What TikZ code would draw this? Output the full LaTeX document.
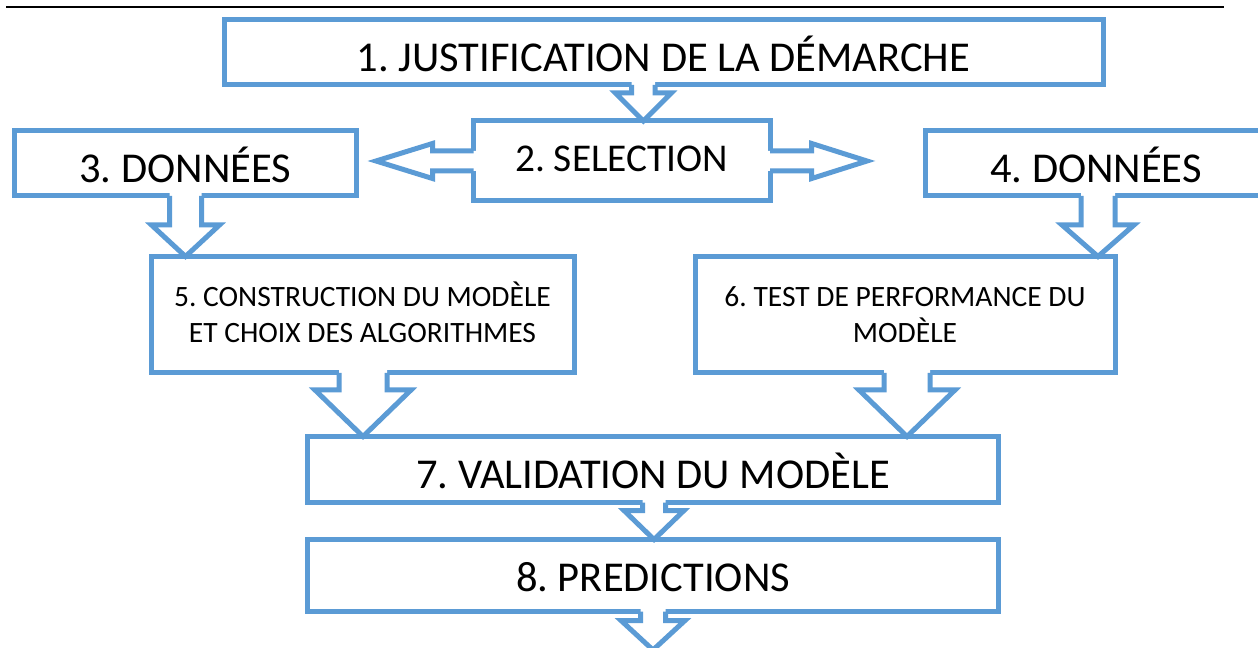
\documentclass[tikz,border=0pt]{standalone}
\usepackage{fontspec}
\setmainfont{Carlito}
\usetikzlibrary{calc}
\newdimen\pxu \pxu=0.02cm
\definecolor{flowblue}{HTML}{5B9BD5}
\frenchspacing
\tikzset{
  flowbox/.style={draw=flowblue, line width=5\pxu, fill=white, outer sep=0pt, inner sep=0pt},
  arr/.style={draw=flowblue, line width=5\pxu, line join=miter},
  bigtxt/.style={font=\fontsize{24.2}{28}\selectfont, inner sep=0pt, anchor=base},
  seltxt/.style={font=\fontsize{22.4}{26}\selectfont, inner sep=0pt, anchor=base},
  smalltxt/.style={font=\fontsize{16.8}{20.4}\selectfont, inner sep=0pt, anchor=base, align=center},
}
\newcommand\varrow[5]{%
  \fill[white] ($(#1)+(-#3,-4)$) -- ($(#2)+(-#3,-#5)$) -- ($(#2)+(-#4,-#5)$) -- (#2) -- ($(#2)+(#4,-#5)$) -- ($(#2)+(#3,-#5)$) -- ($(#1)+(#3,-4)$) -- cycle;
  \draw[arr] ($(#1)+(-#3,0)$) -- ($(#2)+(-#3,-#5)$) -- ($(#2)+(-#4,-#5)$) -- (#2) -- ($(#2)+(#4,-#5)$) -- ($(#2)+(#3,-#5)$) -- ($(#1)+(#3,0)$);}
\begin{document}
\begin{tikzpicture}[x=0.02cm, y=-0.02cm]
\useasboundingbox (0,0) rectangle (1258,648);
\clip (0,0) rectangle (1258,648);
% top rule
\coordinate (rl) at (6,7);
\coordinate (rr) at (1224,7);
\draw[line width=2.5\pxu] (rl) -- (rr);
% boxes
\node[flowbox, minimum width=879\pxu, minimum height=65.5\pxu] (b1) at (663.5,52.25) {};
\node[flowbox, minimum width=296.5\pxu, minimum height=80\pxu] (b2) at (621.75,161) {};
\node[flowbox, minimum width=342.5\pxu, minimum height=65\pxu] (b3) at (185.25,163.5) {};
\node[flowbox, minimum width=341\pxu, minimum height=65\pxu] (b4) at (1096,163.5) {};
\node[flowbox, minimum width=423\pxu, minimum height=116.5\pxu] (b5) at (362.5,314.75) {};
\node[flowbox, minimum width=420\pxu, minimum height=116.5\pxu] (b6) at (905,314.75) {};
\node[flowbox, minimum width=691.2\pxu, minimum height=66.2\pxu] (b7) at (653.1,469.6) {};
\node[flowbox, minimum width=691.2\pxu, minimum height=72\pxu] (b8) at (653.1,575.5) {};
% texts
\node[bigtxt] (t1) at (663.5,72) {1. JUSTIFICATION DE LA DÉMARCHE};
\node[seltxt] (t2) at (621.75,171.7) {2. SELECTION};
\node[bigtxt] (t3) at (185.25,183) {3. DONNÉES};
\node[bigtxt] (t4) at (1096,183) {4. DONNÉES};
\node[smalltxt] (t5) at (362.5,342.7) {5. CONSTRUCTION DU MODÈLE\\ET CHOIX DES ALGORITHMES};
\node[smalltxt] (t6) at (905,342.7) {6. TEST DE PERFORMANCE DU\\MODÈLE};
\node[bigtxt] (t7) at (653.1,488.3) {7. VALIDATION DU MODÈLE};
\node[bigtxt] (t8) at (653.1,591.7) {8. PREDICTIONS};
% vertical block arrows
\coordinate (x1) at (643.3,0);
\coordinate (a1s) at (b1.south -| x1);
\coordinate (a1t) at (b2.north -| x1);
\varrow{a1s}{a1t}{11.7}{28}{28}
\coordinate (x2) at (185.5,0);
\coordinate (a2s) at (b3.south -| x2);
\coordinate (a2t) at (b5.north -| x2);
\varrow{a2s}{a2t}{16}{34}{31.5}
\coordinate (x3) at (1098,0);
\coordinate (a3s) at (b4.south -| x3);
\coordinate (a3t) at (b6.north -| x3);
\varrow{a3s}{a3t}{17}{36}{31.5}
\coordinate (x4) at (363,0);
\coordinate (a4s) at (b5.south -| x4);
\coordinate (a4t) at (b7.north -| x4);
\varrow{a4s}{a4t}{24}{48}{46.5}
\coordinate (x5) at (907,0);
\coordinate (a5s) at (b6.south -| x5);
\coordinate (a5t) at (b7.north -| x5);
\varrow{a5s}{a5t}{23}{48}{46.5}
\coordinate (x6) at (654,0);
\coordinate (a6s) at (b7.south -| x6);
\coordinate (a6t) at (b8.north -| x6);
\varrow{a6s}{a6t}{11.5}{30}{29}
\coordinate (x7) at (653,0);
\coordinate (a7s) at (b8.south -| x7);
\coordinate (out) at (653,650);
\varrow{a7s}{out}{12.5}{32}{29.5}
% horizontal block arrows from SELECTION
\coordinate (sl) at (376,161);
\coordinate (sr) at (867,161);
\fill[white] ($(b2.west)+(4,-10)$) -- ($(sl)+(56.5,-10)$) -- ($(sl)+(56.5,-17.5)$) -- (sl) -- ($(sl)+(56.5,17.5)$) -- ($(sl)+(56.5,10)$) -- ($(b2.west)+(4,10)$) -- cycle;
\draw[arr] ($(b2.west)+(0,-10)$) -- ($(sl)+(56.5,-10)$) -- ($(sl)+(56.5,-17.5)$) -- (sl) -- ($(sl)+(56.5,17.5)$) -- ($(sl)+(56.5,10)$) -- ($(b2.west)+(0,10)$);
\fill[white] ($(b2.east)+(-4,-10)$) -- ($(sr)+(-55.3,-10)$) -- ($(sr)+(-55.3,-17.5)$) -- (sr) -- ($(sr)+(-55.3,17.5)$) -- ($(sr)+(-55.3,10)$) -- ($(b2.east)+(-4,10)$) -- cycle;
\draw[arr] ($(b2.east)+(0,-10)$) -- ($(sr)+(-55.3,-10)$) -- ($(sr)+(-55.3,-17.5)$) -- (sr) -- ($(sr)+(-55.3,17.5)$) -- ($(sr)+(-55.3,10)$) -- ($(b2.east)+(0,10)$);
\end{tikzpicture}
\end{document}
